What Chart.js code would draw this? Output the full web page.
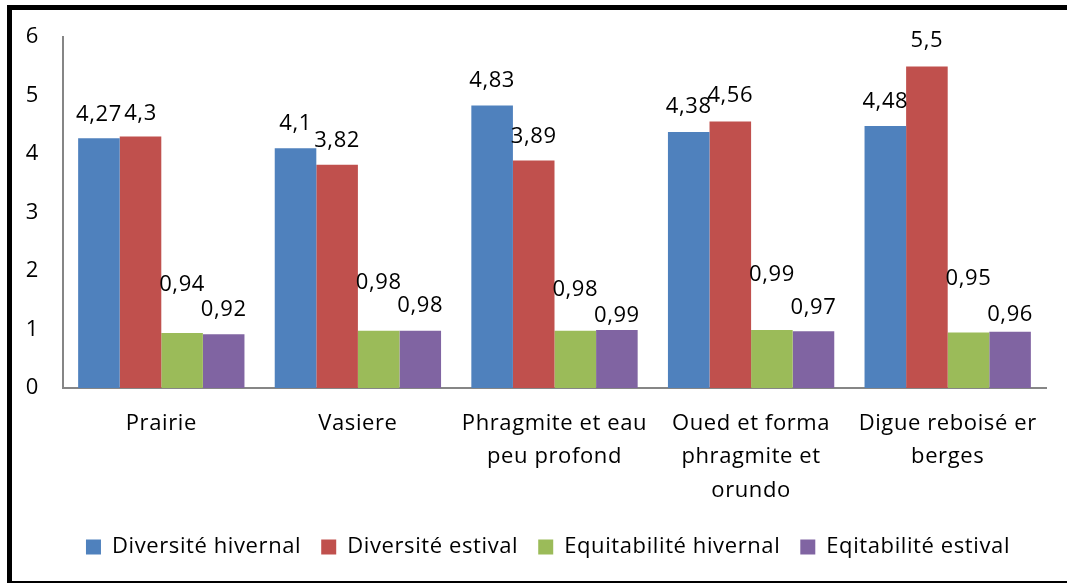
<!DOCTYPE html>
<html>
<head>
<meta charset="utf-8">
<script src="https://cdn.jsdelivr.net/npm/chart.js@4.4.1/dist/chart.umd.min.js"></script>
<style>
    html, body { margin: 0; padding: 0; background: #fff; overflow: hidden; }
    #frame {
        position: absolute; left: 7px; top: 5px; width: 1100px; height: 581px;
        border: 5px solid #000; box-sizing: border-box; pointer-events: none;
    }
    #habitatChart { position: absolute; left: 0; top: 0; }
</style>
</head>
<body>
<canvas id="habitatChart" width="1067" height="583"></canvas>
<div id="frame"></div>
<script>
const categories = [
    "Prairie",
    "Vasiere",
    ["Phragmite et eau", "peu profond"],
    ["Oued et forma", "phragmite et", "orundo"],
    ["Digue reboisé er", "berges"]
];
const diversiteHivernal = [4.27, 4.1, 4.83, 4.38, 4.48];
const diversiteEstival = [4.3, 3.82, 3.89, 4.56, 5.5];
const equitabiliteHivernal = [0.94, 0.98, 0.98, 0.99, 0.95];
const eqitabiliteEstival = [0.92, 0.98, 0.99, 0.97, 0.96];
const yTicks = [0, 1, 2, 3, 4, 5, 6];

// gap (px) between bar top and label centre, per series, as placed in the original
const labelLift = [
    [24, 25, 25, 25, 24],
    [23, 24, 24, 26, 26],
    [48, 48, 41, 55, 54],
    [24, 25, 14, 24, 17]
];

const FONT = "'Open Sans', sans-serif";

const spacingPlugin = {
    id: 'spacing',
    beforeUpdate(chart) { chart.ctx.letterSpacing = '0.6px'; },
    beforeDraw(chart) { chart.ctx.letterSpacing = '0.6px'; },
    afterLayout(chart) {
        // legend sits a little right of centre in the original
        chart.legend.left += 25;
        chart.legend.right += 25;
    }
};

const valueLabels = {
    id: 'valueLabels',
    afterDatasetsDraw(chart) {
        const ctx = chart.ctx;
        ctx.save();
        ctx.font = "22px " + FONT;
        ctx.fillStyle = "#000";
        ctx.textAlign = "center";
        ctx.textBaseline = "middle";
        chart.data.datasets.forEach((ds, i) => {
            chart.getDatasetMeta(i).data.forEach((bar, j) => {
                const txt = String(ds.data[j]).replace('.', ',');
                ctx.fillText(txt, bar.x, bar.y - labelLift[i][j]);
            });
        });
        ctx.restore();
    }
};

const ctx = document.getElementById('habitatChart').getContext('2d');
new Chart(ctx, {
    type: 'bar',
    data: {
        labels: categories,
        datasets: [
            { label: "Diversité hivernal", data: diversiteHivernal, backgroundColor: "#4F81BD" },
            { label: "Diversité estival", data: diversiteEstival, backgroundColor: "#C0504D" },
            { label: "Equitabilité hivernal", data: equitabiliteHivernal, backgroundColor: "#9BBB59" },
            { label: "Eqitabilité estival", data: eqitabiliteEstival, backgroundColor: "#8064A2" }
        ]
    },
    options: {
        responsive: false,
        animation: false,
        categoryPercentage: 0.846,
        barPercentage: 1,
        layout: { padding: { top: 37, right: 21, left: 0, bottom: 15 } },
        plugins: {
            legend: {
                position: 'bottom',
                labels: {
                    boxWidth: 15,
                    boxHeight: 15,
                    padding: 20,
                    color: "#000",
                    font: { family: FONT, size: 22 }
                }
            },
            tooltip: { enabled: false }
        },
        scales: {
            x: {
                grid: { display: false },
                border: { display: true, color: "#868686", width: 2 },
                ticks: {
                    color: "#000",
                    padding: 11,
                    maxRotation: 0,
                    autoSkip: false,
                    font: { family: FONT, size: 22, lineHeight: 1.52 }
                },
                afterFit(scale) { scale.height = 128; }
            },
            y: {
                min: 0,
                max: 6,
                grid: { display: false, drawTicks: false },
                border: { display: true, color: "#868686", width: 2 },
                afterBuildTicks(scale) { scale.ticks = yTicks.map(v => ({ value: v })); },
                ticks: {
                    color: "#000",
                    padding: 24,
                    font: { family: FONT, size: 22 }
                },
                afterFit(scale) { scale.width = 63; }
            }
        }
    },
    plugins: [spacingPlugin, valueLabels]
});
</script>
</body>
</html>
